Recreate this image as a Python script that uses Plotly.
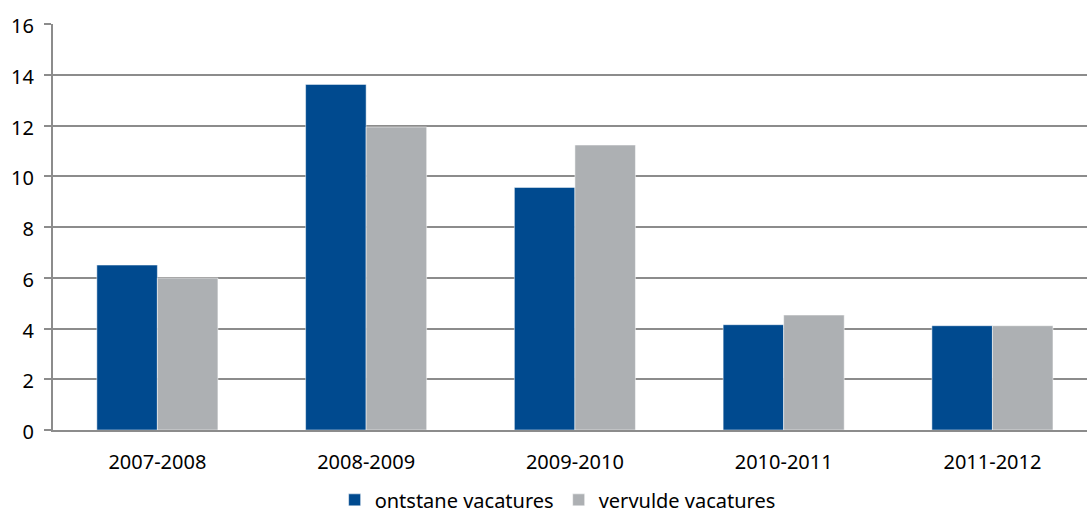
import plotly.graph_objects as go

categories = ["2007-2008", "2008-2009", "2009-2010", "2010-2011", "2011-2012"]
ontstane = [6.5, 13.62, 9.56, 4.15, 4.11]
vervulde = [5.99, 11.94, 11.23, 4.53, 4.11]
y_ticks = [0, 2, 4, 6, 8, 10, 12, 14, 16]

font = "Noto Sans, DejaVu Sans, sans-serif"

fig = go.Figure()
fig.add_trace(go.Bar(x=categories, y=ontstane, name="ontstane vacatures",
                     marker=dict(color="#004A8F", line=dict(color="#FFFFFF", width=0.5))))
fig.add_trace(go.Bar(x=categories, y=vervulde, name="vervulde vacatures",
                     marker=dict(color="#ADB0B3", line=dict(color="#FFFFFF", width=0.5))))

fig.update_layout(
    width=1087, height=518,
    margin=dict(l=53, r=0, t=23.5, b=87.5),
    plot_bgcolor="white", paper_bgcolor="white",
    barmode="group", bargap=0.42, bargroupgap=0,
    font=dict(family=font, size=20, color="#000000"),
    showlegend=True,
    legend=dict(orientation="h", xref="container", yref="container",
                x=0.513, xanchor="center", y=0.035, yanchor="middle",
                font=dict(family=font, size=20), itemwidth=30, traceorder="normal"),
    xaxis=dict(range=[-0.5, 4.453], showline=True, linecolor="#8C8C8C", linewidth=2, ticks="",
               tickfont=dict(size=20), ticklabelstandoff=13, automargin=False),
    yaxis=dict(range=[0, 16], tickvals=y_ticks, showgrid=True, gridcolor="#8C8C8C", gridwidth=2,
               showline=True, linecolor="#8C8C8C", linewidth=2, ticks="outside", ticklen=7,
               tickcolor="#8C8C8C", tickwidth=2, zeroline=False, tickfont=dict(size=20),
               ticklabelstandoff=6, ticklabelshift=2, automargin=False),
)

post = (
    "document.documentElement.style.margin='0';"
    "document.body.style.margin='0';"
    "document.body.style.overflow='hidden';"
    "var d=document.getElementsByClassName('plotly-graph-div')[0];"
    "d.style.position='fixed';d.style.left='0px';d.style.top='0px';"
)

fig.write_html("out.html", config={"displayModeBar": False}, post_script=post)
